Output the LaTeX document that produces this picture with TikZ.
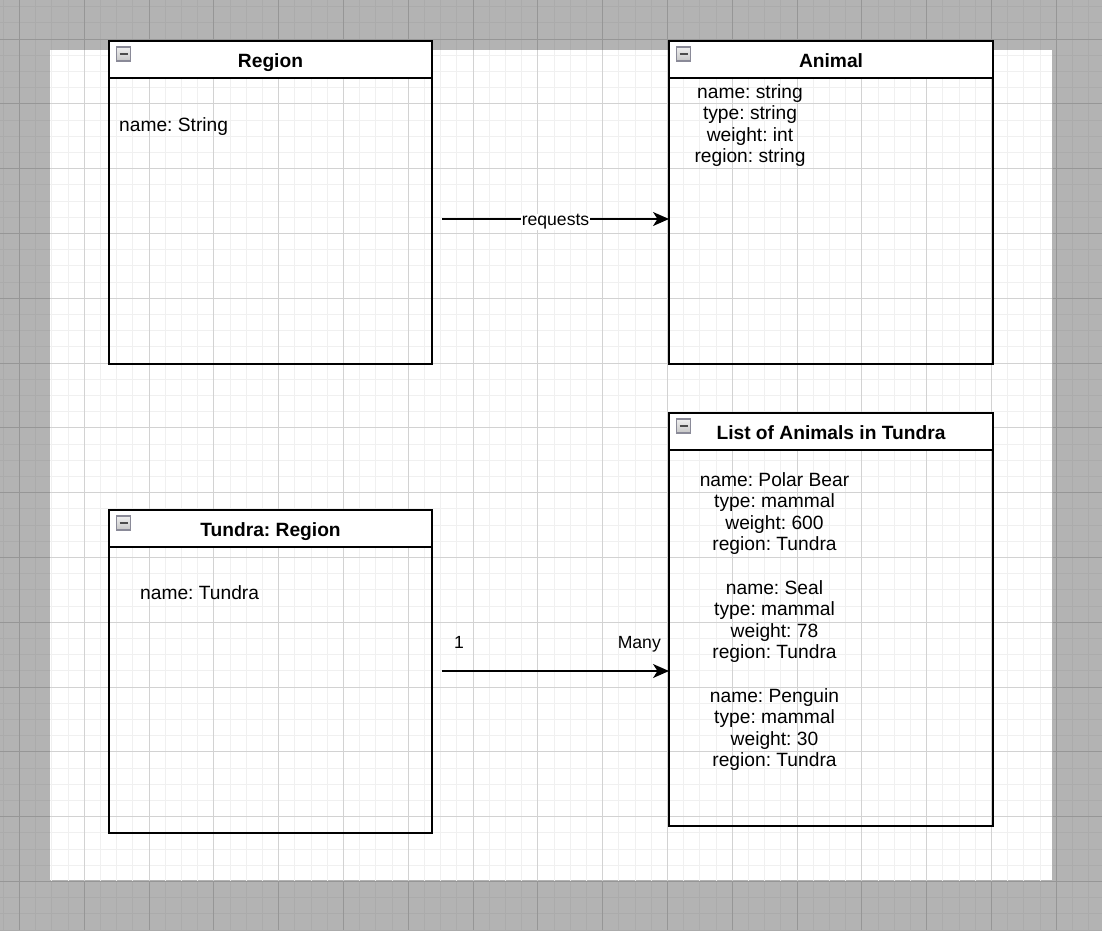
\documentclass[tikz,border=0pt]{standalone}
\usepackage{fontspec}
\setmainfont{Liberation Sans}
\usetikzlibrary{arrows.meta}
\frenchspacing
\definecolor{bgray}{HTML}{B3B3B3}
\definecolor{gminor}{HTML}{ABABAB}
\definecolor{gmajor}{HTML}{969696}
\definecolor{wminor}{HTML}{F0F0F0}
\definecolor{wmajor}{HTML}{D2D2D2}
\definecolor{iconline}{HTML}{8A8A98}
\begin{document}
\begin{tikzpicture}[x=1pt,y=-1pt,
  umlbox/.style={draw=black, line width=2pt, rectangle, inner sep=0pt, outer sep=0pt, anchor=north west},
  hdr/.style={draw=black, fill=white, line width=2pt, rectangle, inner sep=0pt, outer sep=0pt, minimum height=37pt, anchor=north},
  hdrtext/.style={font=\fontsize{19.2}{21.6}\selectfont\bfseries, inner sep=0pt, anchor=base},
  attr/.style={font=\fontsize{19.2}{21.6}\selectfont, inner sep=0pt, align=center},
  elabel/.style={font=\fontsize{17.6}{21}\selectfont, inner sep=0pt},
  conn/.style={line width=1.5pt, -{Stealth[length=16pt,width=14pt,inset=4.5pt]}},
  icon/.style={rectangle, inner sep=0pt, outer sep=0pt, minimum size=14pt, draw=iconline, line width=1.2pt,
    top color=gray!12, bottom color=gray!45,
    path picture={\draw[line width=2.5pt, black!70] ([xshift=3pt]path picture bounding box.west) -- ([xshift=-3pt]path picture bounding box.east);}},
  gline/.style={line width=1pt}
]
\useasboundingbox (0,0) rectangle (1102,930);
% background and grid
\fill[bgray] (0,0) rectangle (1102,930);
\foreach \i in {-1,...,67} \draw[gline, gminor] ({19.5+16.2*\i},0) -- ({19.5+16.2*\i},930);
\foreach \j in {-2,...,55} \draw[gline, gminor] (0,{39+16.2*\j}) -- (1102,{39+16.2*\j});
\foreach \i in {0,...,16} \draw[gline, gmajor] ({19.5+64.8*\i},0) -- ({19.5+64.8*\i},930);
\foreach \j in {-1,...,14} \draw[gline, gmajor] (0,{39+64.8*\j}) -- (1102,{39+64.8*\j});
\fill[white] (50,50) rectangle (1052,880);
\begin{scope}
\clip (50,50) rectangle (1052,880);
\foreach \i in {-1,...,67} \draw[gline, wminor] ({19.5+16.2*\i},0) -- ({19.5+16.2*\i},930);
\foreach \j in {-2,...,55} \draw[gline, wminor] (0,{39+16.2*\j}) -- (1102,{39+16.2*\j});
\foreach \i in {0,...,16} \draw[gline, wmajor] ({19.5+64.8*\i},0) -- ({19.5+64.8*\i},930);
\foreach \j in {-1,...,14} \draw[gline, wmajor] (0,{39+64.8*\j}) -- (1102,{39+64.8*\j});
\end{scope}

% Region
\node[umlbox, minimum width=323pt, minimum height=323pt] (region) at (109,41) {};
\node[hdr, minimum width=323pt] (regionH) at (region.north) {};
\node[icon] (regionI) at (123.5,54) {};
\node[hdrtext] (regionT) at (270.5,67) {Region};
\node[attr, anchor=base west] (regionA) at (119,131) {name: String};

% Animal
\node[umlbox, minimum width=324pt, minimum height=323pt] (animal) at (669,41) {};
\node[hdr, minimum width=324pt] (animalH) at (animal.north) {};
\node[icon] (animalI) at (683.5,54) {};
\node[hdrtext] (animalT) at (831,67) {Animal};
\node[attr, anchor=north] (animalA) at (750,84) {name: string\\type: string\\weight: int\\region: string};

% Tundra: Region
\node[umlbox, minimum width=323pt, minimum height=323pt] (tundra) at (109,510) {};
\node[hdr, minimum width=323pt] (tundraH) at (tundra.north) {};
\node[icon] (tundraI) at (123.5,523) {};
\node[hdrtext] (tundraT) at (270.5,536) {Tundra: Region};
\node[attr, anchor=base west] (tundraA) at (140,599) {name: Tundra};

% List of Animals in Tundra
\node[umlbox, minimum width=324pt, minimum height=413pt] (list) at (669,413) {};
\node[hdr, minimum width=324pt] (listH) at (list.north) {};
\node[icon] (listI) at (683.5,426) {};
\node[hdrtext] (listT) at (831,439) {List of Animals in Tundra};
\node[attr, anchor=north] (listA) at (774.5,472) {name: Polar Bear\\type: mammal\\weight: 600\\region: Tundra\\[21.6pt]name: Seal\\type: mammal\\weight: 78\\region: Tundra\\[21.6pt]name: Penguin\\type: mammal\\weight: 30\\region: Tundra};

% connectors
\coordinate (r1) at (442,219);
\draw[conn] (r1) -- (r1 -| animal.west) node[elabel, midway, fill=white, inner xsep=1pt, yshift=-3pt] (reqL) {requests};
\coordinate (r2) at (442,671);
\draw[conn] (r2) -- (r2 -| list.west);
\node[elabel, anchor=base] (one) at (459,648) {1};
\node[elabel, anchor=base east] (many) at (661,648) {Many};
\end{tikzpicture}
\end{document}
